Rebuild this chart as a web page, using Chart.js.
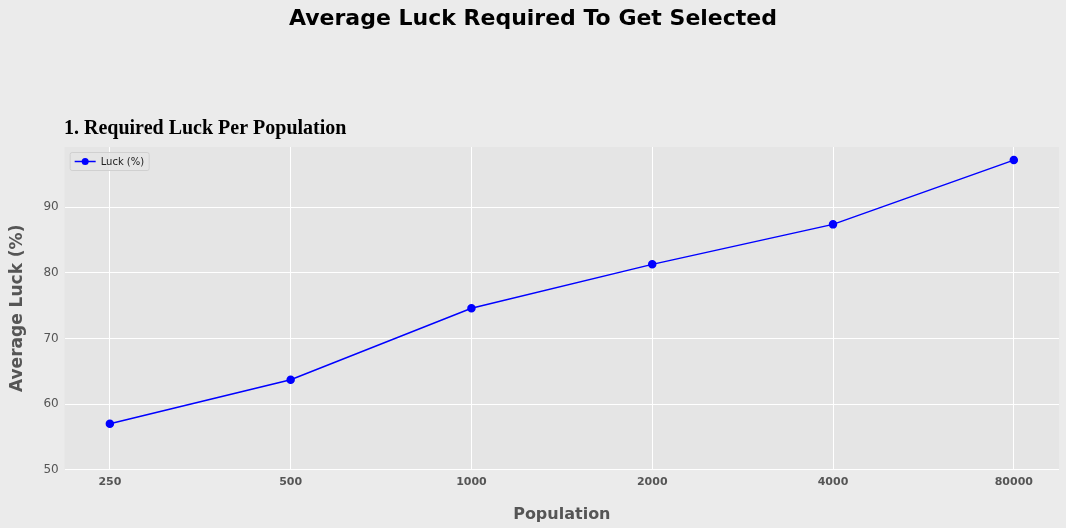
<!DOCTYPE html>
<html><head><meta charset="utf-8">
<script src="https://cdn.jsdelivr.net/npm/chart.js@4/dist/chart.umd.min.js"></script>
<style>html,body{margin:0;background:#ebebeb;}</style></head>
<body><canvas id="c" width="1066" height="528"></canvas>
<script>
const categories = ["250","500","1000","2000","4000","80000"];
const luck = [57.0, 63.7, 74.6, 81.3, 87.4, 97.2];
const yTicks = [50,60,70,80,90];

const bgPlugin = {
  id:'bg',
  beforeDraw(chart){
    const {ctx, chartArea:a} = chart;
    ctx.save(); ctx.fillStyle='#ebebeb'; ctx.fillRect(0,0,chart.width,chart.height);
    ctx.fillStyle='#e5e5e5'; ctx.fillRect(a.left,a.top,a.right-a.left,a.bottom-a.top); ctx.restore();
  },
  afterDraw(chart){
    const {ctx, chartArea:a} = chart;
    ctx.save();
    const x=a.left+5, y=a.top+5;
    ctx.fillStyle='rgba(229,229,229,0.8)'; ctx.strokeStyle='#d0d0d0'; ctx.lineWidth=1;
    ctx.beginPath(); ctx.roundRect(x+0.5,y+0.5,79,18,2); ctx.fill(); ctx.stroke();
    ctx.strokeStyle='blue'; ctx.lineWidth=1.5;
    ctx.beginPath(); ctx.moveTo(x+5,y+9.5); ctx.lineTo(x+26,y+9.5); ctx.stroke();
    ctx.fillStyle='blue'; ctx.beginPath(); ctx.arc(x+15.5,y+9.5,3.5,0,Math.PI*2); ctx.fill();
    ctx.fillStyle='#222'; ctx.font='10px "DejaVu Sans"'; ctx.textBaseline='middle';
    ctx.fillText('Luck (%)', x+31, y+10);
    ctx.fillStyle='#000'; ctx.textBaseline='alphabetic';
    ctx.font='bold 22px "Comic Sans MS","DejaVu Sans"'; ctx.textAlign='center';
    ctx.fillText('Average Luck Required To Get Selected', 533, 25);
    ctx.font='bold 20px "Liberation Serif"'; ctx.textAlign='left';
    ctx.fillText('1. Required Luck Per Population', 64, 134);
    ctx.restore();
  }
};

new Chart(document.getElementById('c'), {
  type:'line',
  data:{datasets:[{label:'Luck (%)', data: luck.map((v,i)=>({x:i,y:v})),
    borderColor:'blue', backgroundColor:'blue', borderWidth:1.5, pointRadius:3.5, pointHoverRadius:3.5, tension:0}]},
  options:{
    responsive:false, animation:false,
    layout:{padding:{top:147,right:7,left:3,bottom:0}},
    plugins:{legend:{display:false}, tooltip:{enabled:false}},
    scales:{
      x:{type:'linear', min:-0.25, max:5.25,
        afterBuildTicks(s){ s.ticks = categories.map((c,i)=>({value:i})); },
        ticks:{callback:(v)=>categories[v], color:'#555', font:{size:11, weight:'bold', family:'DejaVu Sans'}, padding:6},
        grid:{color:'#ffffff', lineWidth:1, drawTicks:false}, border:{display:false},
        title:{display:true, text:'Population', color:'#555', font:{size:16, weight:'bold', family:'DejaVu Sans'}, padding:{top:10,bottom:4}}},
      y:{min:50, max:99.2,
        afterBuildTicks(s){ s.ticks = yTicks.map(v=>({value:v})); },
        ticks:{color:'#555', font:{size:12, family:'DejaVu Sans'}, padding:6},
        grid:{color:'#ffffff', lineWidth:1, drawTicks:false}, border:{display:false},
        title:{display:true, text:'Average Luck (%)', color:'#555', font:{size:17, weight:'bold', family:'DejaVu Sans'}, padding:{top:4,bottom:10}}}
    }
  },
  plugins:[bgPlugin]
});
</script></body></html>
